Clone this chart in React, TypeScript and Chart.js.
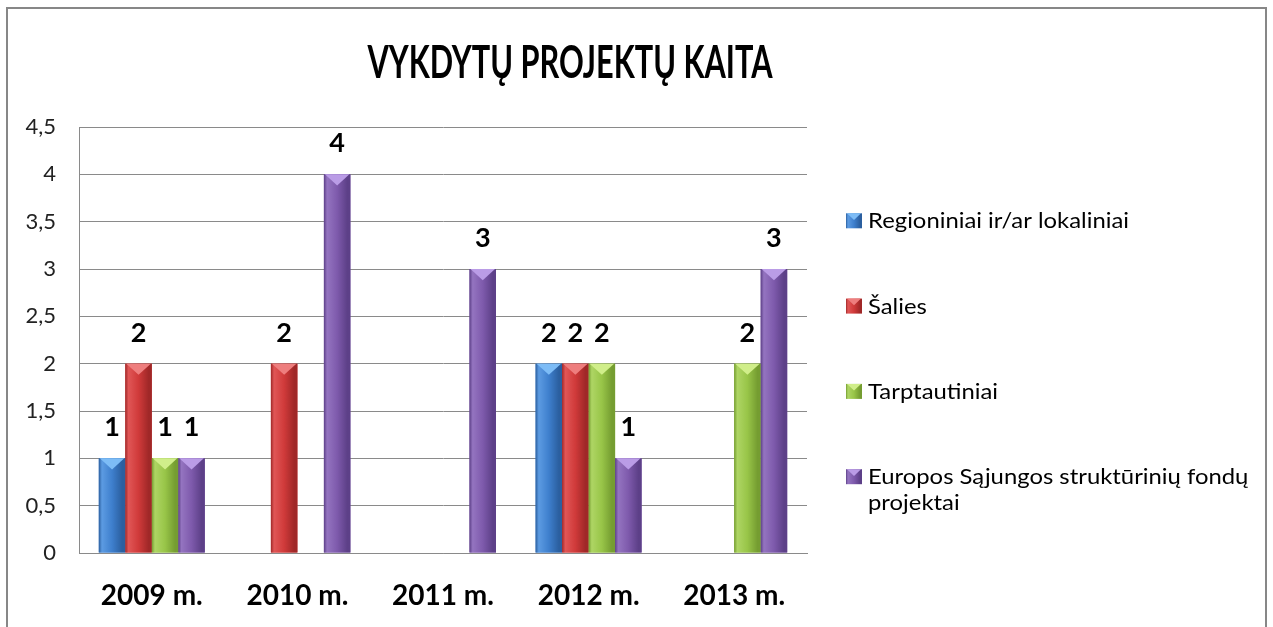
import React, { useEffect, useRef } from "react";
import { Chart, registerables } from "chart.js";

Chart.register(...registerables);

const categories = ["2009 m.", "2010 m.", "2011 m.", "2012 m.", "2013 m."];
const seriesNames = [
  "Regioniniai ir/ar lokaliniai",
  "Šalies",
  "Tarptautiniai",
  "Europos Sąjungos struktūrinių fondų projektai",
];
const legendLines = [
  ["Regioniniai ir/ar lokaliniai"],
  ["Šalies"],
  ["Tarptautiniai"],
  ["Europos Sąjungos struktūrinių fondų", "projektai"],
];
const regioniniai = [1, null, null, 2, null];
const salies = [2, 2, null, 2, null];
const tarptautiniai = [1, null, null, 2, 2];
const esFondai = [1, 4, 3, 1, 3];
const yMin = 0;
const yMax = 4.5;
const yStep = 0.5;
const titleText = "VYKDYTŲ PROJEKTŲ KAITA";

const palettes = [
  { base: "#3E7FCD", light: "#5C9BE2", dark: "#2B5F9F", top: "#7DBCF6" },
  { base: "#D03A3A", light: "#E05656", dark: "#A02828", top: "#EE7E7E" },
  { base: "#98C548", light: "#AED564", dark: "#759D31", top: "#D0EE8A" },
  { base: "#7E5AAC", light: "#9474C0", dark: "#5D4088", top: "#BA9CE6" },
];

const FONT = "Lato, 'Open Sans', 'Noto Sans', sans-serif";

function paintBevel(ctx: CanvasRenderingContext2D, left: number, top: number, w: number, h: number, p: any) {
  if (h <= 0 || w <= 0) return;
  const g = ctx.createLinearGradient(left, 0, left + w, 0);
  g.addColorStop(0, p.dark);
  g.addColorStop(0.12, p.light);
  g.addColorStop(0.5, p.base);
  g.addColorStop(0.88, p.dark);
  g.addColorStop(1, p.dark);
  ctx.fillStyle = g;
  ctx.fillRect(left, top, w, h);
  const depth = Math.min(w * 0.42, h / 2);
  ctx.beginPath();
  ctx.moveTo(left + 1, top);
  ctx.lineTo(left + w - 1, top);
  ctx.lineTo(left + w / 2, top + depth);
  ctx.closePath();
  ctx.fillStyle = p.top;
  ctx.fill();
}

const bevelAndLabels = {
  id: "bevelAndLabels",
  afterDatasetsDraw(chart: any) {
    const ctx = chart.ctx as CanvasRenderingContext2D;
    ctx.save();
    chart.data.datasets.forEach((ds: any, di: number) => {
      const meta = chart.getDatasetMeta(di);
      meta.data.forEach((el: any, i: number) => {
        const v = ds.data[i];
        if (v == null) return;
        const { x, y, base, width } = el.getProps(["x", "y", "base", "width"], true);
        paintBevel(ctx, x - width / 2, y, width, base - y, palettes[di]);
      });
    });
    ctx.fillStyle = "#000";
    ctx.font = `bold 27px ${FONT}`;
    ctx.textAlign = "center";
    ctx.textBaseline = "alphabetic";
    chart.data.datasets.forEach((ds: any, di: number) => {
      const meta = chart.getDatasetMeta(di);
      meta.data.forEach((el: any, i: number) => {
        const v = ds.data[i];
        if (v == null) return;
        const { x, y } = el.getProps(["x", "y"], true);
        ctx.fillText(String(v), x, y - 22);
      });
    });
    ctx.restore();
  },
};

const titleAndLegend = {
  id: "titleAndLegend",
  afterDraw(chart: any) {
    const ctx = chart.ctx as CanvasRenderingContext2D;
    // title
    ctx.save();
    ctx.fillStyle = "#000";
    ctx.font = `bold 46px ${FONT}`;
    ctx.textAlign = "center";
    ctx.textBaseline = "alphabetic";
    const tw = ctx.measureText(titleText).width;
    const sx = 405 / tw;
    ctx.translate(562, 69);
    ctx.scale(sx, 1);
    ctx.fillText(titleText, 0, 0);
    ctx.restore();

    // legend
    ctx.save();
    ctx.font = `21px ${FONT}`;
    const lw = ctx.measureText(legendLines[0][0]).width;
    const lsx = 261 / lw;
    const boxX = 838;
    const textX = 860;
    const startBaseline = 219.3;
    const stepY = 85.3;
    legendLines.forEach((lines, i) => {
      const by = startBaseline + i * stepY;
      paintBevel(ctx, boxX, by - 15, 16, 15, palettes[i]);
      ctx.fillStyle = "#000";
      ctx.textAlign = "left";
      ctx.textBaseline = "alphabetic";
      lines.forEach((ln, k) => {
        ctx.save();
        ctx.translate(textX, by + k * 26);
        ctx.scale(lsx, 1);
        ctx.fillText(ln, 0, 0);
        ctx.restore();
      });
    });
    ctx.restore();
  },
};

export default function App() {
  const ref = useRef<HTMLCanvasElement | null>(null);
  useEffect(() => {
    if (!ref.current) return;
    const datasets = [regioniniai, salies, tarptautiniai, esFondai].map((d, i) => ({
      label: seriesNames[i],
      data: d,
      backgroundColor: palettes[i].base,
      borderWidth: 0,
      categoryPercentage: 0.728,
      barPercentage: 1,
    }));
    const chart = new Chart(ref.current, {
      type: "bar",
      data: { labels: categories, datasets },
      options: {
        responsive: false,
        animation: false,
        layout: { padding: { left: 0, top: 118, right: 458, bottom: 0 } },
        plugins: {
          legend: { display: false },
          title: { display: false },
          tooltip: { enabled: false },
        },
        scales: {
          x: {
            grid: { display: false, drawTicks: false },
            border: { display: true, color: "#8a8a8a", width: 1 },
            ticks: {
              color: "#000",
              padding: 26,
              font: { family: FONT, size: 28, weight: "bold" },
            },
            afterFit: (s: any) => {
              s.height = 74;
            },
          },
          y: {
            min: yMin,
            max: yMax,
            grid: { color: "#8a8a8a", drawTicks: false, lineWidth: 1 },
            border: { display: true, color: "#8a8a8a", width: 1 },
            ticks: {
              stepSize: yStep,
              color: "#222",
              padding: 23,
              font: { family: FONT, size: 22 },
              callback: (v: any) => String(v).replace(".", ","),
            },
            afterFit: (s: any) => {
              s.width = 71;
            },
          },
        },
      },
      plugins: [bevelAndLabels, titleAndLegend],
    });
    return () => chart.destroy();
  }, []);

  return (
    <div
      style={{
        position: "fixed",
        left: 6,
        top: 7,
        width: 1257,
        height: 640,
        border: "2px solid #878787",
        background: "#fff",
      }}
    >
      <canvas ref={ref} width={1257} height={618} style={{ display: "block" }} />
    </div>
  );
}
